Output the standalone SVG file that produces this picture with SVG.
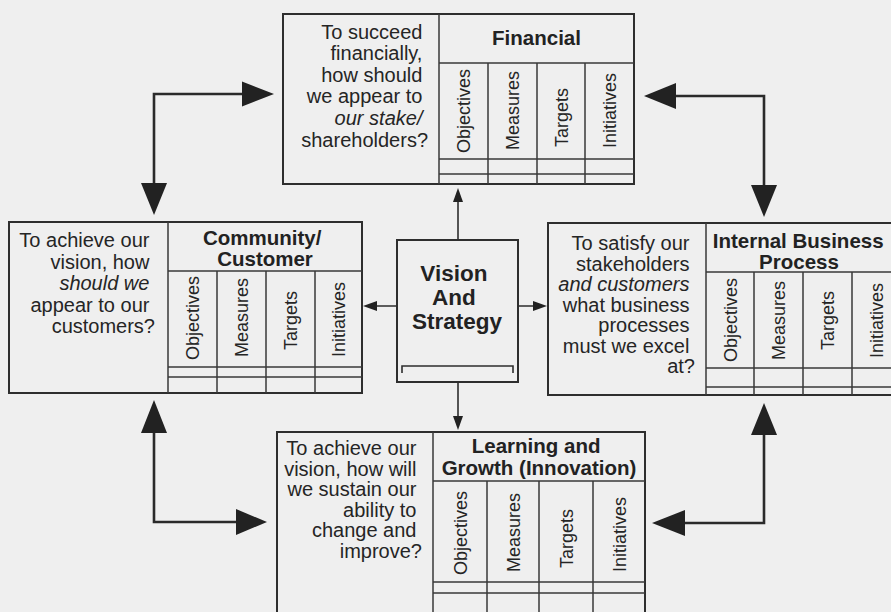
<svg xmlns="http://www.w3.org/2000/svg" width="891" height="612" viewBox="0 0 891 612">
  <style>
    .frame { fill: none; stroke: #2e2e2e; stroke-width: 2; }
    .grid { fill: none; stroke: #3a3a3a; stroke-width: 1.5; }
    .q { font-family: "Liberation Sans", Arial, sans-serif; font-size: 20px; fill: #252525; text-anchor: end; }
    .q .i { font-style: italic; }
    .h { font-family: "Liberation Sans", Arial, sans-serif; font-size: 20.5px; font-weight: bold; fill: #222; text-anchor: middle; }
    .c { font-family: "Liberation Sans", Arial, sans-serif; font-size: 18px; fill: #252525; text-anchor: start; }
    .v { font-family: "Liberation Sans", Arial, sans-serif; font-size: 22.5px; font-weight: bold; fill: #222; text-anchor: middle; }
    .shaft { fill: none; stroke: #2a2a2a; stroke-width: 2.6; }
    .thin { fill: none; stroke: #2e2e2e; stroke-width: 1.6; }
    .head { fill: #222; }
  </style>

  <rect width="891" height="612" fill="#efefef"/>

  <!-- Financial -->
  <g id="financial">
    <rect class="frame" x="283" y="14" width="351" height="170"/>
    <path class="grid" d="M439,14 V184 M439,63 H634 M488,63 V184 M537,63 V184 M585,63 V184 M439,159 H634 M439,174 H634"/>
    <text class="q">
      <tspan x="428" y="39">To succeed</tspan>
      <tspan x="428" y="60">financially,</tspan>
      <tspan x="428" y="82">how should</tspan>
      <tspan x="428" y="103">we appear to</tspan>
      <tspan x="428" y="125" class="i">our stake/</tspan>
      <tspan x="428" y="147">shareholders?</tspan>
    </text>
    <text class="h" x="536.5" y="45">Financial</text>
    <text class="c" transform="translate(470,153) rotate(-90)">Objectives</text>
    <text class="c" transform="translate(519,150) rotate(-90)">Measures</text>
    <text class="c" transform="translate(567.5,147) rotate(-90)">Targets</text>
    <text class="c" transform="translate(616,148) rotate(-90)">Initiatives</text>
  </g>

  <!-- Community / Customer -->
  <g id="customer">
    <rect class="frame" x="9" y="222" width="353" height="171"/>
    <path class="grid" d="M168,222 V393 M168,271 H362 M217,271 V393 M266,271 V393 M315,271 V393 M168,367 H362 M168,377 H362"/>
    <text class="q">
      <tspan x="155" y="247">To achieve our</tspan>
      <tspan x="155" y="268.5">vision, how</tspan>
      <tspan x="155" y="290" class="i">should we</tspan>
      <tspan x="155" y="311.5">appear to our</tspan>
      <tspan x="155" y="333">customers?</tspan>
    </text>
    <text class="h">
      <tspan x="265" y="245">Community/</tspan>
      <tspan x="265" y="266">Customer</tspan>
    </text>
    <text class="c" transform="translate(199,360) rotate(-90)">Objectives</text>
    <text class="c" transform="translate(248,357) rotate(-90)">Measures</text>
    <text class="c" transform="translate(297,350) rotate(-90)">Targets</text>
    <text class="c" transform="translate(345,357) rotate(-90)">Initiatives</text>
  </g>

  <!-- Vision and Strategy -->
  <g id="vision">
    <rect class="frame" x="397" y="240" width="121" height="142"/>
    <path class="thin" d="M402,373 V366 H513 V373"/>
    <text class="v">
      <tspan x="457" y="281">Vision</tspan>
      <tspan x="457" y="305">And</tspan>
      <tspan x="457" y="329">Strategy</tspan>
    </text>
  </g>

  <!-- Internal Business Process -->
  <g id="internal">
    <rect class="frame" x="548" y="223" width="360" height="172"/>
    <path class="grid" d="M706,223 V395 M706,272 H908 M754,272 V395 M803,272 V395 M852,272 V395 M706,368 H908 M706,387 H908"/>
    <text class="q">
      <tspan x="695" y="250">To satisfy our</tspan>
      <tspan x="695" y="270.5">stakeholders</tspan>
      <tspan x="695" y="291" class="i">and customers</tspan>
      <tspan x="695" y="311.5">what business</tspan>
      <tspan x="695" y="332">processes</tspan>
      <tspan x="695" y="352.5">must we excel</tspan>
      <tspan x="695" y="373">at?</tspan>
    </text>
    <text class="h">
      <tspan x="801" y="248">Internal Business</tspan>
      <tspan x="799" y="269">Process</tspan>
    </text>
    <text class="c" transform="translate(736.5,362) rotate(-90)">Objectives</text>
    <text class="c" transform="translate(785,360) rotate(-90)">Measures</text>
    <text class="c" transform="translate(834,350) rotate(-90)">Targets</text>
    <text class="c" transform="translate(882.5,358) rotate(-90)">Initiatives</text>
  </g>

  <!-- Learning and Growth -->
  <g id="learning">
    <rect class="frame" x="277" y="432" width="368" height="200"/>
    <path class="grid" d="M433,432 V632 M433,481 H645 M487,481 V632 M539,481 V632 M593,481 V632 M433,582 H645 M433,593 H645"/>
    <text class="q">
      <tspan x="422" y="455">To achieve our</tspan>
      <tspan x="422" y="475.5">vision, how will</tspan>
      <tspan x="422" y="496">we sustain our</tspan>
      <tspan x="422" y="516.5">ability to</tspan>
      <tspan x="422" y="537">change and</tspan>
      <tspan x="422" y="557.5">improve?</tspan>
    </text>
    <text class="h">
      <tspan x="539" y="453">Learning and</tspan>
      <tspan x="539" y="475">Growth (Innovation)</tspan>
    </text>
    <text class="c" transform="translate(466.5,575) rotate(-90)">Objectives</text>
    <text class="c" transform="translate(519.5,572) rotate(-90)">Measures</text>
    <text class="c" transform="translate(572.5,568) rotate(-90)">Targets</text>
    <text class="c" transform="translate(625.5,572) rotate(-90)">Initiatives</text>
  </g>

  <!-- connectors -->
  <g id="connectors">
    <!-- from Vision and Strategy to each perspective -->
    <path class="thin" d="M458,240 V200 M458,382 V418 M518,306 H535 M397,306 H376"/>
    <polygon class="head" points="458,188 453,202 463,202"/>
    <polygon class="head" points="458,430 453,416 463,416"/>
    <polygon class="head" points="547,306 533,301 533,311"/>
    <polygon class="head" points="363,306 377,301 377,311"/>

    <!-- cause-and-effect loops between perspectives -->
    <path class="shaft" d="M243,94 H154 V184"/>
    <polygon class="head" points="274,94 242,81.5 242,106.5"/>
    <polygon class="head" points="154,215 141,183 167,183"/>

    <path class="shaft" d="M675,96 H764 V186"/>
    <polygon class="head" points="644,96 676,83 676,109"/>
    <polygon class="head" points="764,217 751,185 777,185"/>

    <path class="shaft" d="M154,432 V522 H237"/>
    <polygon class="head" points="154,400 141,433 167,433"/>
    <polygon class="head" points="267,522 236,509 236,535"/>

    <path class="shaft" d="M764,434 V523 H684"/>
    <polygon class="head" points="764,403 751,435 777,435"/>
    <polygon class="head" points="652,523 685,510 685,536"/>
  </g>
</svg>
